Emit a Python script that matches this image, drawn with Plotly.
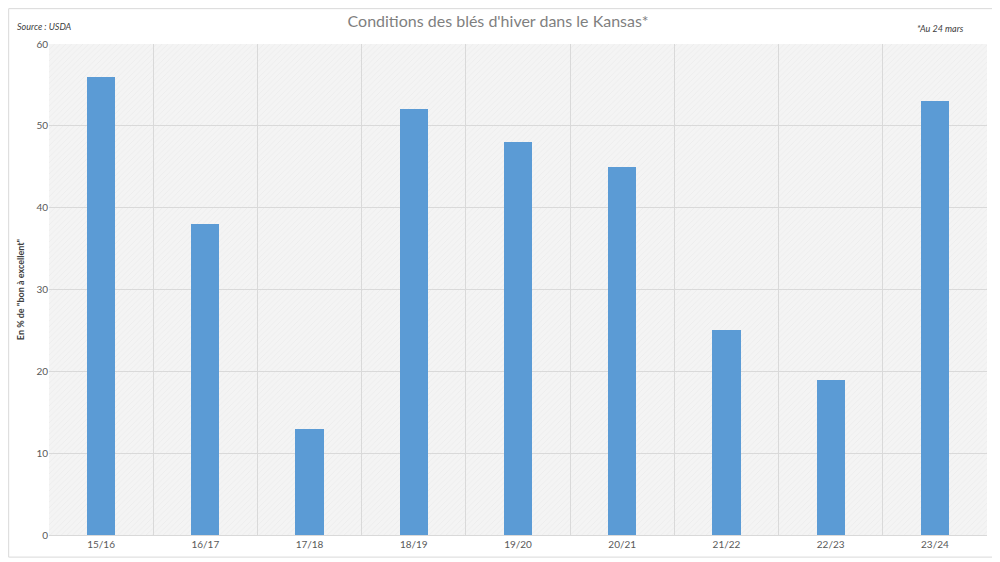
import plotly.graph_objects as go

categories = ["15/16", "16/17", "17/18", "18/19", "19/20", "20/21", "21/22", "22/23", "23/24"]
values = [56, 38, 13, 52, 48, 45, 25, 19, 53]
y_ticks = [0, 10, 20, 30, 40, 50, 60]

FONT = "Lato"
idx = list(range(len(categories)))

fig = go.Figure()
# hatched background band (style only)
fig.add_trace(go.Bar(
    x=idx, y=[max(y_ticks)] * len(idx), width=1,
    marker=dict(color="rgba(0,0,0,0)", line=dict(width=0),
                pattern=dict(shape="/", fgcolor="#dcdcdc", bgcolor="rgba(0,0,0,0)",
                             size=4, solidity=0.15)),
    hoverinfo="skip", showlegend=False,
))
fig.add_trace(go.Bar(
    x=idx, y=values, width=0.27,
    marker=dict(color="#5b9bd5", line=dict(width=0)),
    showlegend=False,
))

fig.update_layout(
    width=992, height=554,
    margin=dict(l=41, r=13, t=36, b=23),
    paper_bgcolor="white",
    plot_bgcolor="#f4f4f4",
    barmode="overlay",
    bargap=0,
    font=dict(family=FONT, color="#595959", size=10),
    title=dict(text="Conditions des blés d'hiver dans le Kansas*", x=0.494, xanchor="center",
               xref="container", yref="container",
               y=0.975, yanchor="middle", font=dict(family=FONT, size=16, color="#7f7f7f")),
    annotations=[
        dict(text="<i>Source : USDA</i>", xref="paper", yref="paper", x=-0.036, y=1.036,
             xanchor="left", yanchor="middle", showarrow=False,
             font=dict(family=FONT, size=9, color="#404040")),
        dict(text="<i>*Au 24 mars</i>", xref="paper", yref="paper", x=0.923, y=1.032,
             xanchor="left", yanchor="middle", showarrow=False,
             font=dict(family=FONT, size=9, color="#404040")),
    ],
    shapes=[
        dict(type="rect", xref="paper", yref="paper", x0=-0.043, x1=1.012, y0=-0.045, y1=1.072,
             line=dict(color="#d9d9d9", width=1), layer="below"),
    ],
)
fig.update_xaxes(
    range=[-0.5, len(categories) - 0.5],
    tickmode="array", tickvals=idx, ticktext=categories,
    showgrid=False, zeroline=False,
    showline=True, linecolor="#d9d9d9", linewidth=1,
    ticks="", tickfont=dict(size=10, color="#595959"),
    minor=dict(tickmode="array", tickvals=[i + 0.5 for i in idx[:-1]], showgrid=True,
               gridcolor="#d9d9d9", gridwidth=1, ticks=""),
)
fig.update_yaxes(
    range=[0, 60], tickmode="array", tickvals=y_ticks,
    showgrid=True, gridcolor="#d9d9d9", gridwidth=1, zeroline=False,
    ticks="", ticklen=0, tickfont=dict(size=10, color="#595959"),
    title=dict(text='<b>En % de "bon à excellent"</b>', standoff=10,
               font=dict(family=FONT, size=9, color="#404040")),
)

fig.write_html("out.html")
